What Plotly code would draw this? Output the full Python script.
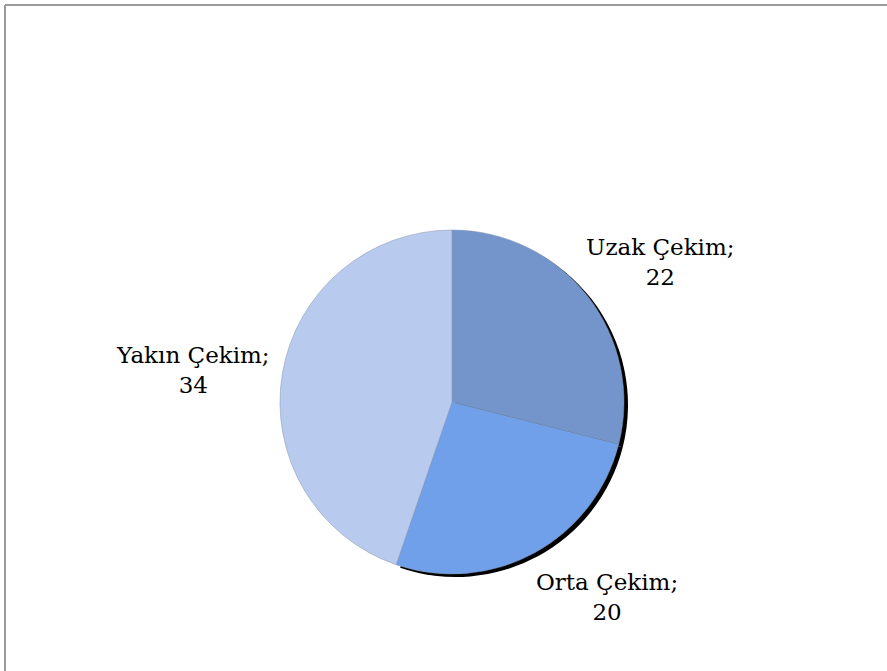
import plotly.graph_objects as go

categories = ["Uzak Çekim", "Orta Çekim", "Yakın Çekim"]
values = [22, 20, 34]
colors = ["#7495cc", "#70a0ea", "#b8cbef"]

W, H = 887, 671
cx, cy, r = 452, 402, 172


def dom(cx, cy, r):
    return dict(x=[(cx - r) / W, (cx + r) / W], y=[1 - (cy + r) / H, 1 - (cy - r) / H])


fig = go.Figure()
# shadow
fig.add_trace(go.Pie(
    labels=categories, values=values, sort=False, direction="clockwise", rotation=0,
    marker=dict(colors=["#000000", "#000000", "rgba(0,0,0,0)"], line=dict(width=0)),
    textinfo="none", hoverinfo="skip", showlegend=False,
    domain=dom(cx + 4, cy + 3, r),
))
fig.add_trace(go.Pie(
    labels=categories, values=values, sort=False, direction="clockwise", rotation=0,
    marker=dict(colors=colors, line=dict(color="#7f90aa", width=0.5)),
    textinfo="none", showlegend=False,
    domain=dom(cx, cy, r),
))

label_pos = {"Uzak Çekim": (660, 262), "Orta Çekim": (607, 597), "Yakın Çekim": (193, 370)}
for cat, v in zip(categories, values):
    x, y = label_pos[cat]
    fig.add_annotation(
        x=x / W, y=1 - y / H, xref="paper", yref="paper", xanchor="center", yanchor="middle",
        text=f"{cat};<br>{v}", showarrow=False, align="center",
        font=dict(family="DejaVu Serif", size=23, color="#000000"),
    )

fig.add_shape(type="line", xref="paper", yref="paper", x0=5 / W, x1=1, y0=1 - 5 / H, y1=1 - 5 / H,
              line=dict(color="#9a9a9a", width=2))
fig.add_shape(type="line", xref="paper", yref="paper", x0=5 / W, x1=5 / W, y0=0, y1=1 - 5 / H,
              line=dict(color="#9a9a9a", width=2))

fig.update_layout(width=W, height=H, margin=dict(l=0, r=0, t=0, b=0),
                  paper_bgcolor="white", plot_bgcolor="white")
fig.write_html("out.html", config={"displayModeBar": False},
               post_script="document.body.style.margin='0';document.body.style.overflow='hidden';")
